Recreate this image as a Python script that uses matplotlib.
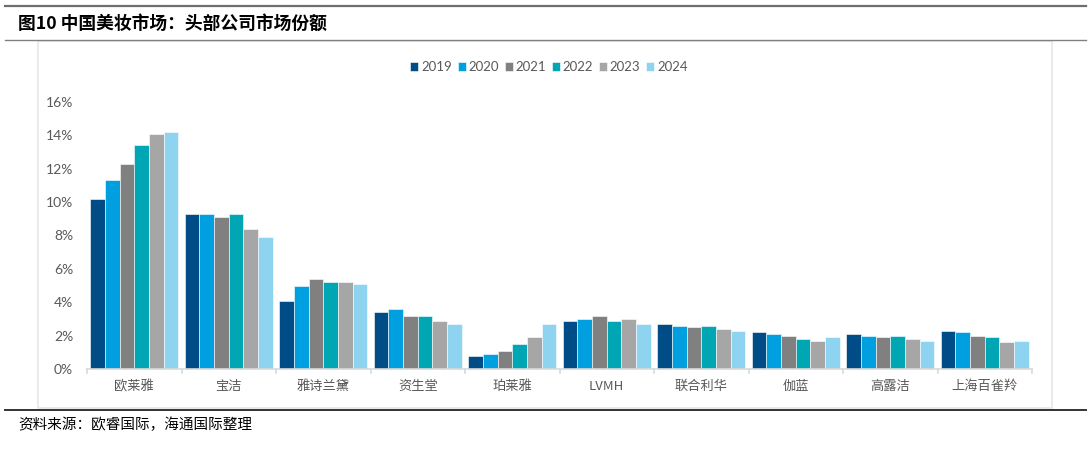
import matplotlib
matplotlib.use("Agg")
import matplotlib.pyplot as plt
from matplotlib.lines import Line2D
from matplotlib.patches import Rectangle
import numpy as np

plt.rcParams['font.family'] = ['Noto Sans CJK SC', 'DejaVu Sans']

categories = ["欧莱雅", "宝洁", "雅诗兰黛", "资生堂", "珀莱雅", "LVMH", "联合利华", "伽蓝", "高露洁", "上海百雀羚"]
years = ["2019", "2020", "2021", "2022", "2023", "2024"]
s2019 = [10.2, 9.3, 4.1, 3.4, 0.8, 2.9, 2.7, 2.2, 2.1, 2.3]
s2020 = [11.3, 9.3, 5.0, 3.6, 0.9, 3.0, 2.6, 2.1, 2.0, 2.2]
s2021 = [12.3, 9.1, 5.4, 3.2, 1.1, 3.2, 2.5, 2.0, 1.9, 2.0]
s2022 = [13.4, 9.3, 5.2, 3.2, 1.5, 2.9, 2.6, 1.8, 2.0, 1.9]
s2023 = [14.1, 8.4, 5.2, 2.9, 1.9, 3.0, 2.4, 1.7, 1.8, 1.6]
s2024 = [14.2, 7.9, 5.1, 2.7, 2.7, 2.7, 2.3, 1.9, 1.7, 1.7]
series = [s2019, s2020, s2021, s2022, s2023, s2024]
colors = ["#004C86", "#00A0E0", "#808080", "#00A6B4", "#A6A6A6", "#8ED3F0"]
yticks = [0, 2, 4, 6, 8, 10, 12, 14, 16]
ytick_labels = ["0%", "2%", "4%", "6%", "8%", "10%", "12%", "14%", "16%"]

W, H = 1092, 450
fig = plt.figure(figsize=(W / 100, H / 100), dpi=100)

# axes: x 87..1032, y 102..369 (pixels)
ax = fig.add_axes([87 / W, 1 - 369 / H, (1032 - 87) / W, (369 - 102) / H])

n = len(categories)
x = np.arange(n)
bw = 0.155
for i, (vals, c) in enumerate(zip(series, colors)):
    ax.bar(x + (i - 2.5) * bw, vals, width=bw, color=c, edgecolor="white", linewidth=0.4, label=years[i], zorder=2)

ax.set_xlim(-0.5, n - 0.5)
ax.set_ylim(0, 16)
ax.set_yticks(yticks)
ax.set_yticklabels(ytick_labels, fontsize=10, color="#595959", family=['Lato', 'DejaVu Sans'])
ax.set_xticks(x)
ax.set_xticklabels(categories, fontsize=9.5, color="#595959")
ax.tick_params(axis='y', length=0, pad=10)
ax.tick_params(axis='x', length=0, pad=8)
for side in ["top", "right", "left"]:
    ax.spines[side].set_visible(False)
ax.spines["bottom"].set_color("#D9D9D9")
ax.spines["bottom"].set_linewidth(1.2)
# category boundary tick marks
for b in np.arange(-0.5, n, 1.0):
    ax.plot([b, b], [0, -0.25], color="#D9D9D9", lw=1.2, clip_on=False, transform=ax.transData)

leg = fig.legend(loc="center", bbox_to_anchor=(549 / W, 1 - 67 / H), ncol=6, frameon=False,
                 fontsize=9.5, handlelength=0.6, handleheight=0.6, handletextpad=0.25,
                 columnspacing=0.4, labelcolor="#595959")
for t in leg.get_texts():
    t.set_family(['Lato', 'DejaVu Sans'])

# frame box of the chart area
fig.add_artist(Rectangle((38 / W, 1 - 408 / H), (1052 - 38) / W, (408 - 41) / H,
                         transform=fig.transFigure, fill=False, edgecolor="#E6E6E6", lw=1.2))

# horizontal rules
fig.add_artist(Line2D([5 / W, 1086 / W], [1 - 5.5 / H, 1 - 5.5 / H], color="#6E6E6E", lw=1.6))
fig.add_artist(Line2D([5 / W, 1086 / W], [1 - 40 / H, 1 - 40 / H], color="#808080", lw=1.0))
fig.add_artist(Line2D([5 / W, 1086 / W], [1 - 410 / H, 1 - 410 / H], color="#333333", lw=1.4))

fig.text(18 / W, 1 - 24 / H, "图10 中国美妆市场：头部公司市场份额", fontsize=12.8, fontweight="bold",
         color="black", va="center", ha="left")
fig.text(18 / W, 1 - 425 / H, "资料来源：欧睿国际，海通国际整理", fontsize=10.5, color="black",
         va="center", ha="left")

fig.savefig("out.png", dpi=100)
